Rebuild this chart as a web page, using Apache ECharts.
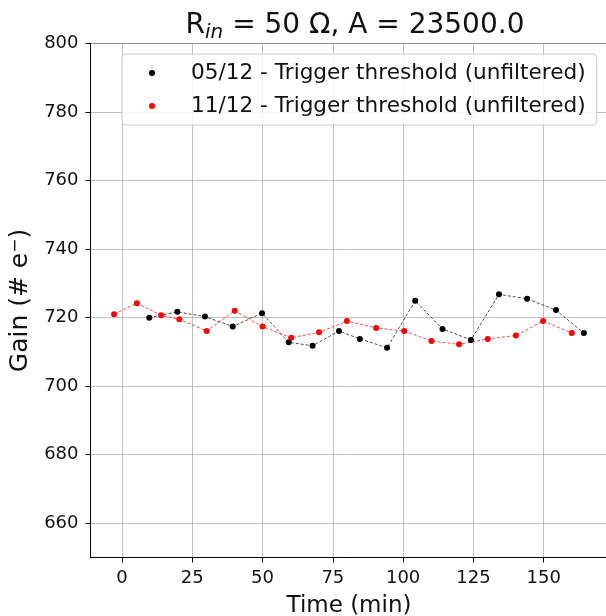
<!DOCTYPE html>
<html>
<head>
<meta charset="utf-8">
<script src="https://cdn.jsdelivr.net/npm/echarts@6/dist/echarts.min.js"></script>
<style>
html,body{margin:0;padding:0;background:#fff;}
#chart{width:606px;height:616px;}
</style>
</head>
<body>
<div id="chart"></div>
<script>
// Data
const timeA = [9.7, 19.7, 29.5, 39.4, 49.8, 59.3, 67.8, 77.2, 84.6, 94.3, 104.3, 114.0, 124.1, 134.1, 144.1, 154.4, 164.3];
const gainA = [720.0, 721.7, 720.3, 717.4, 721.3, 712.8, 711.8, 716.1, 713.8, 711.2, 724.9, 716.7, 713.5, 726.8, 725.5, 722.2, 715.5];
const timeB = [-2.8, 5.3, 13.9, 20.4, 30.1, 40.1, 50.0, 60.2, 70.1, 80.0, 90.4, 100.4, 110.1, 119.9, 130.1, 140.1, 149.8, 160.0];
const gainB = [721.0, 724.2, 720.7, 719.5, 716.1, 722.0, 717.4, 714.1, 715.7, 719.0, 717.0, 716.1, 713.2, 712.2, 713.8, 714.8, 719.0, 715.5];
const seriesNames = ['05/12 - Trigger threshold (unfiltered)', '11/12 - Trigger threshold (unfiltered)'];
const xTicks = [0, 25, 50, 75, 100, 125, 150];
const yTicks = [660, 680, 700, 720, 740, 760, 780, 800];

const FONT = 'DejaVu Sans';
const pairs = (xs, ys) => xs.map((x, i) => [x, ys[i]]);

const chart = echarts.init(document.getElementById('chart'), null, {renderer: 'canvas'});
const axisCommon = {
  axisLine: {show: true, onZero: false, lineStyle: {color: '#000', width: 1}},
  axisTick: {show: true, inside: false, length: 5, lineStyle: {color: '#000', width: 1}},
  splitLine: {show: true, lineStyle: {color: '#b0b0b0', width: 0.8}},
  axisLabel: {color: '#111', fontFamily: FONT, fontSize: 18}
};
chart.setOption({
  animation: false,
  backgroundColor: '#fff',
  title: {
    text: '{r|R}{s|in}{r| = 50 Ω, A = 23500.0}',
    left: 350, textAlign: 'center', top: 4,
    textStyle: {
      fontWeight: 'normal',
      rich: {
        r: {fontFamily: FONT, fontSize: 28, fontWeight: 'normal', color: '#111', lineHeight: 34},
        s: {fontFamily: FONT, fontSize: 20, fontWeight: 'normal', fontStyle: 'italic', color: '#111', lineHeight: 22, verticalAlign: 'bottom'}
      }
    }
  },
  grid: {left: 90.5, top: 43.5, width: 517, height: 514, show: true, borderColor: '#000', borderWidth: 1, backgroundColor: 'transparent', containLabel: false, outerBoundsMode: 'none'},
  legend: {
    orient: 'vertical', left: 122, top: 54,
    icon: 'circle', itemWidth: 6, itemHeight: 6, itemGap: 9,
    padding: [7, 11, 7, 27],
    backgroundColor: 'rgba(255,255,255,0.8)', borderColor: '#cccccc', borderWidth: 1, borderRadius: 4,
    textStyle: {fontFamily: FONT, fontSize: 21.6, color: '#111', lineHeight: 24, padding: [0, 0, 0, 31]},
    data: seriesNames
  },
  xAxis: Object.assign({}, axisCommon, {
    type: 'value', min: -11.2, max: 172.7,
    name: 'Time (min)', nameLocation: 'middle', nameGap: 37,
    nameTextStyle: {fontFamily: FONT, fontSize: 23, color: '#111', verticalAlign: 'top'},
    axisTick: Object.assign({}, axisCommon.axisTick, {customValues: xTicks}),
    axisLabel: Object.assign({}, axisCommon.axisLabel, {customValues: xTicks, margin: 12})
  }),
  yAxis: Object.assign({}, axisCommon, {
    type: 'value', min: 650, max: 800,
    name: '{a|Gain (# e}{b|−}{a|)}', nameLocation: 'middle', nameGap: 52, nameRotate: 90,
    nameTextStyle: {
      rich: {
        a: {fontFamily: FONT, fontSize: 25, color: '#111', lineHeight: 28},
        b: {fontFamily: FONT, fontSize: 17, color: '#111', lineHeight: 16, verticalAlign: 'top'}
      }
    },
    axisTick: Object.assign({}, axisCommon.axisTick, {customValues: yTicks}),
    axisLabel: Object.assign({}, axisCommon.axisLabel, {customValues: yTicks, margin: 12})
  }),
  series: [
    {
      name: seriesNames[0], type: 'line', data: pairs(timeA, gainA),
      symbol: 'circle', symbolSize: 6, showSymbol: true,
      itemStyle: {color: '#000000'},
      lineStyle: {color: '#000000', width: 0.7, type: [3, 2]}
    },
    {
      name: seriesNames[1], type: 'line', data: pairs(timeB, gainB),
      symbol: 'circle', symbolSize: 6, showSymbol: true,
      itemStyle: {color: '#ff0000'},
      lineStyle: {color: '#ff0000', width: 0.7, type: [3, 2]}
    }
  ]
});
</script>
</body>
</html>
